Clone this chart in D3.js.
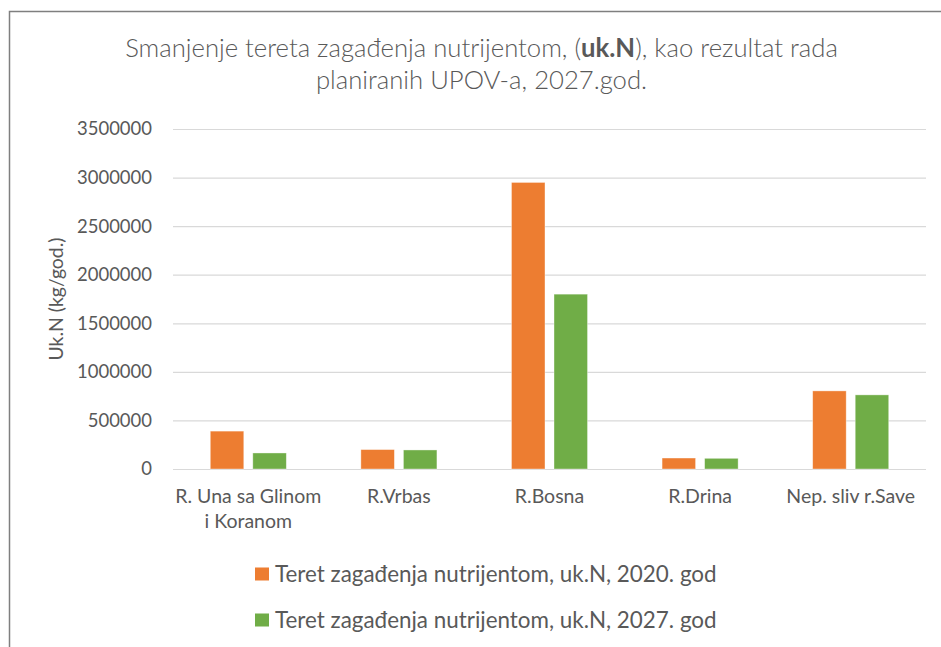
<!DOCTYPE html>
<html>
<head>
	<meta charset="UTF-8" />
	<title>Smanjenje tereta zagađenja nutrijentom</title>
	<script src="https://d3js.org/d3.v7.min.js"></script>
	<style>
		body { margin: 0; background: #fff; }
		text { font-family: Lato, "Open Sans", sans-serif; fill: #595959; }
	</style>
</head>
<body>
	<div id="main"></div>
	<script type="text/javascript">
		// data
		var categories = ['R. Una sa Glinom i Koranom', 'R.Vrbas', 'R.Bosna', 'R.Drina', 'Nep. sliv r.Save'];
		var categoryLines = [['R. Una sa Glinom', 'i Koranom'], ['R.Vrbas'], ['R.Bosna'], ['R.Drina'], ['Nep. sliv r.Save']];
		var seriesNames = ['Teret zagađenja nutrijentom, uk.N, 2020. god', 'Teret zagađenja nutrijentom, uk.N, 2027. god'];
		var values2020 = [390000, 200000, 2950000, 113000, 804000];
		var values2027 = [165000, 196000, 1800000, 110000, 763000];
		var yTicks = [0, 500000, 1000000, 1500000, 2000000, 2500000, 3000000, 3500000];
		var colors = ['#ED7D31', '#70AD47'];

		var width = 941, height = 647;
		// plot area (note: "top" is reserved on window, so use plot* names)
		var plotLeft = 173, plotRight = 926, plotTop = 129, plotBottom = 469;

		var svg = d3.select('#main').append('svg').attr('width', width).attr('height', height);

		// frame
		svg.append('rect').attr('x', 9.5).attr('y', 11.5).attr('width', 960).attr('height', 700)
			.attr('fill', 'none').attr('stroke', '#7f7f7f').attr('stroke-width', 1.5);

		function fit(sel, target) {
			var w = sel.node().getComputedTextLength();
			var fs = parseFloat(sel.attr('font-size'));
			sel.attr('font-size', fs * target / w);
		}

		// title (light weight like the original)
		var t1 = svg.append('text').attr('x', 481.5).attr('y', 57).attr('text-anchor', 'middle')
			.attr('font-size', 21).attr('font-weight', 300);
		t1.append('tspan').text('Smanjenje tereta zagađenja nutrijentom, (');
		t1.append('tspan').attr('font-weight', 'bold').text('uk.N');
		t1.append('tspan').text('), kao rezultat rada');
		fit(t1, 713);
		svg.append('text').attr('x', 481.5).attr('y', 89).attr('text-anchor', 'middle').attr('font-weight', 300)
			.attr('font-size', t1.attr('font-size')).text('planiranih UPOV-a, 2027.god.');

		var y = d3.scaleLinear().domain([0, 3500000]).range([plotBottom, plotTop]);
		var x0 = d3.scaleBand().domain(categories).range([plotLeft, plotRight]).paddingInner(0.495).paddingOuter(0.2475);
		var x1 = d3.scaleBand().domain([0, 1]).range([0, x0.bandwidth()]).paddingInner(0.212);

		// y axis + gridlines
		var yAxis = svg.append('g').attr('transform', 'translate(' + plotLeft + ',0)')
			.call(d3.axisLeft(y).tickValues(yTicks).tickFormat(d3.format('d')).tickSize(-(plotRight - plotLeft)).tickPadding(21));
		yAxis.select('.domain').remove();
		yAxis.selectAll('line').attr('stroke', '#d9d9d9').attr('stroke-width', 1.2);
		yAxis.selectAll('text').attr('font-family', null).attr('font-size', 19).style('fill', '#595959');
		var tickNodes = yAxis.selectAll('.tick text').nodes();
		var tickScale = 75 / tickNodes[tickNodes.length - 1].getComputedTextLength();
		yAxis.selectAll('text').attr('font-size', 19 * tickScale);
		yAxis.attr('font-family', null);

		// y title
		var yt = svg.append('text').attr('transform', 'translate(63,' + ((plotTop + plotBottom) / 2) + ') rotate(-90)')
			.attr('text-anchor', 'middle').attr('font-size', 17).text('Uk.N (kg/god.)');
		fit(yt, 123);

		// bars
		var rows = categories.map(function (c, i) { return { cat: c, vals: [values2020[i], values2027[i]] }; });
		var groups = svg.selectAll('.grp').data(rows).enter().append('g').attr('class', 'grp')
			.attr('transform', function (d) { return 'translate(' + x0(d.cat) + ',0)'; });
		groups.selectAll('rect').data(function (d) { return d.vals; }).enter().append('rect')
			.attr('x', function (d, i) { return x1(i); })
			.attr('width', x1.bandwidth())
			.attr('y', function (d) { return y(d); })
			.attr('height', function (d) { return plotBottom - y(d); })
			.attr('fill', function (d, i) { return colors[i]; })
			.attr('stroke', '#fff').attr('stroke-opacity', 0.5).attr('stroke-width', 0.75);

		// category labels
		var catSize = 18;
		var cl = svg.append('g');
		categories.forEach(function (c, i) {
			var cx = x0(c) + x0.bandwidth() / 2;
			var tx = cl.append('text').attr('x', cx).attr('y', 503)
				.attr('text-anchor', 'middle').attr('font-size', catSize);
			categoryLines[i].forEach(function (line, j) {
				tx.append('tspan').attr('x', cx).attr('dy', j ? 25 : 0).text(line);
			});
		});
		var probe = cl.append('text').attr('font-size', catSize).text(categoryLines[0][0]);
		var catScale = 146 / probe.node().getComputedTextLength();
		probe.remove();
		cl.selectAll('text').attr('font-size', catSize * catScale);

		// legend
		var legend = svg.append('g');
		seriesNames.forEach(function (name, i) {
			var cy = 574 + i * 46;
			legend.append('rect').attr('x', 255).attr('y', cy - 6.5).attr('width', 14).attr('height', 13).attr('fill', colors[i]);
			var lt = legend.append('text').attr('x', 275).attr('y', cy + 8).attr('font-size', 20).text(name);
			fit(lt, 442);
		});
	</script>
</body>
</html>
